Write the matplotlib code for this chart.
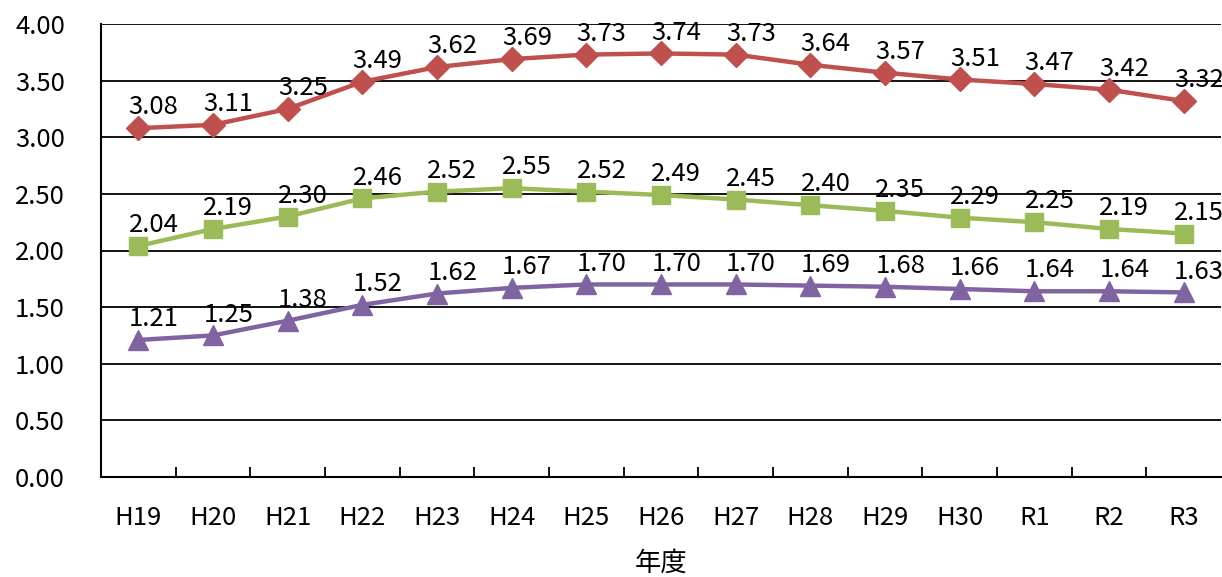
import matplotlib.pyplot as plt

plt.rcParams['font.family'] = ['Noto Sans CJK JP', 'DejaVu Sans']

years = ["H19", "H20", "H21", "H22", "H23", "H24", "H25", "H26",
         "H27", "H28", "H29", "H30", "R1", "R2", "R3"]
red_vals = [3.08, 3.11, 3.25, 3.49, 3.62, 3.69, 3.73, 3.74,
            3.73, 3.64, 3.57, 3.51, 3.47, 3.42, 3.32]
green_vals = [2.04, 2.19, 2.30, 2.46, 2.52, 2.55, 2.52, 2.49,
              2.45, 2.40, 2.35, 2.29, 2.25, 2.19, 2.15]
purple_vals = [1.21, 1.25, 1.38, 1.52, 1.62, 1.67, 1.70, 1.70,
               1.70, 1.69, 1.68, 1.66, 1.64, 1.64, 1.63]

fig = plt.figure(figsize=(12.22, 5.77), dpi=100)
ax = fig.add_axes([101 / 1222, 1 - 477 / 577, 1120 / 1222, 453 / 577])

x = list(range(len(years)))
series = [
    (red_vals, "#C0504D", "D", 12),
    (green_vals, "#9BBB59", "s", 13),
    (purple_vals, "#8064A2", "^", 15),
]
for vals, col, mk, ms in series:
    ax.plot(x, vals, color=col, lw=3.2, marker=mk, markersize=ms,
            zorder=3, clip_on=False)
    for xi, v in zip(x, vals):
        ax.annotate(f"{v:.2f}", (xi, v), xytext=(11, 10),
                    textcoords="offset points", ha="center", va="baseline",
                    fontsize=18.5, zorder=4)

ax.set_xlim(-0.5, len(years) - 0.5)
ax.set_ylim(0, 4)
ax.set_yticks([i * 0.5 for i in range(9)])
ax.set_yticklabels([f"{i * 0.5:.2f}" for i in range(9)], fontsize=18.5)
ax.yaxis.grid(True, color="black", lw=1.3)
ax.set_axisbelow(True)
ax.tick_params(axis="y", length=0, pad=26)

ax.set_xticks(x)
ax.set_xticklabels(years, fontsize=18.5)
ax.tick_params(axis="x", length=0, pad=20)
ax.set_xticks([i + 0.5 for i in range(len(years) - 1)], minor=True)
ax.tick_params(axis="x", which="minor", direction="in", length=7, width=1.3)

for s in ["top", "right"]:
    ax.spines[s].set_visible(False)
for s in ["left", "bottom"]:
    ax.spines[s].set_linewidth(1.5)

ax.set_xlabel("年度", fontsize=19, labelpad=14)

fig.savefig("out.png", dpi=100)
